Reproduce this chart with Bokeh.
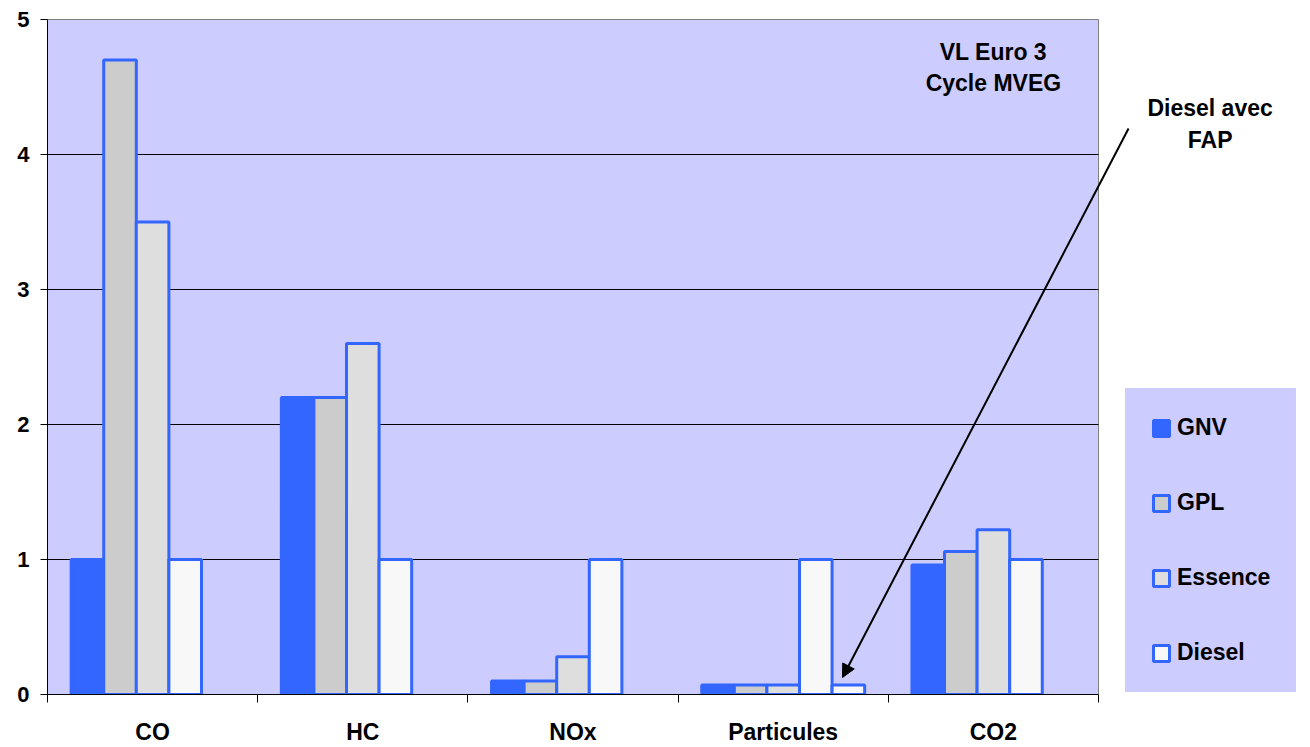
import math
from bokeh.plotting import figure
from bokeh.models import (Range1d, FixedTicker, Legend, LegendItem, Label,
                          Arrow, NormalHead)
from bokeh.embed import file_html
from bokeh.resources import INLINE

# ---- data ----
categories = ["CO", "HC", "NOx", "Particules", "CO2"]
gnv = [1.0, 2.2, 0.1, 0.07, 0.96]
gpl = [4.7, 2.2, 0.1, 0.07, 1.06]
essence = [3.5, 2.6, 0.28, 0.07, 1.22]
diesel = [1.0, 1.0, 1.0, 1.0, 1.0]
diesel_fap = [math.nan, math.nan, math.nan, 0.07, math.nan]
y_ticks = [0, 1, 2, 3, 4, 5]
series_names = ["GNV", "GPL", "Essence", "Diesel", "Diesel avec FAP"]

# ---- style / layout ----
FONT = "Liberation Sans"
BLUE = "#3366FF"
LAVENDER = "#CCCCFF"
fills = ["#3366FF", "#CCCCCC", "#DEDEDE", "#F8F8F8", "#F8F8F8"]
BAR_W = 0.155
W, H = 1310, 747
LEFT, TOP, BOTTOM = 47, 18, 53
PLOT_RIGHT_PX = 1098          # right edge of the lavender plot area
NCAT = len(categories)
YMAX = y_ticks[-1]
x_end = NCAT * (W - LEFT) / (PLOT_RIGHT_PX - LEFT)
frame_h = H - TOP - BOTTOM
y_end = YMAX * frame_h / (frame_h - 1)

p = figure(width=W, height=H, x_range=Range1d(0, x_end),
           y_range=Range1d(0, y_end), output_backend="svg", toolbar_location=None,
           min_border_left=LEFT, min_border_right=0, min_border_top=TOP,
           min_border_bottom=BOTTOM, background_fill_color="white",
           border_fill_color="white", outline_line_color=None)

centers = [i + 0.5 for i in range(NCAT)]
edges = [float(i) for i in range(NCAT + 1)]

# plot area background and frame
p.quad(left=[0], right=[NCAT], bottom=[0], top=[YMAX], fill_color=LAVENDER,
       line_color="#808080", line_width=1)
# horizontal grid lines limited to plot area
p.segment(x0=[0] * (len(y_ticks) - 2), x1=[NCAT] * (len(y_ticks) - 2),
          y0=y_ticks[1:-1], y1=y_ticks[1:-1], line_color="black", line_width=1)

# x axis: labels at centers, ticks at category edges
xa = p.xaxis[0]
xa.bounds = (0, NCAT)
xa.ticker = FixedTicker(ticks=centers, minor_ticks=edges)
xa.major_label_overrides = {c: name for c, name in zip(centers, categories)}
xa.major_tick_line_color = None
xa.major_tick_out = 0
xa.major_tick_in = 0
xa.minor_tick_out = 8
xa.minor_tick_in = 0
xa.minor_tick_line_color = "black"
xa.axis_line_color = "black"
xa.major_label_text_font = FONT
xa.major_label_text_font_style = "bold"
xa.major_label_text_font_size = "23px"
xa.major_label_text_color = "black"
xa.major_label_standoff = 16

ya = p.yaxis[0]
ya.bounds = (0, YMAX)
ya.ticker = FixedTicker(ticks=y_ticks, minor_ticks=[])
ya.major_tick_out = 7
ya.major_tick_in = 0
ya.major_tick_line_color = "black"
ya.axis_line_color = "black"
ya.major_label_text_font = FONT
ya.major_label_text_font_style = "bold"
ya.major_label_text_font_size = "22px"
ya.major_label_text_color = "black"
ya.major_label_standoff = 11

p.xgrid.grid_line_color = None
p.ygrid.grid_line_color = None

# ---- bars ----
all_series = [gnv, gpl, essence, diesel, diesel_fap]
renderers = []
n = len(all_series)
for k, (vals, fill) in enumerate(zip(all_series, fills)):
    off = (k - (n - 1) / 2) * BAR_W
    xs, tops = [], []
    for c, v in zip(centers, vals):
        if not math.isnan(v):
            xs.append(c + off)
            tops.append(v)
    r = p.vbar(x=xs, top=tops, bottom=0, width=BAR_W, fill_color=fill,
               line_color=BLUE, line_width=3)
    renderers.append(r)

# ---- legend ----
legend = Legend(items=[LegendItem(label=series_names[k], renderers=[renderers[k]])
                       for k in range(4)],
                location=(1078, 2), orientation="vertical",
                background_fill_color=LAVENDER, background_fill_alpha=1,
                border_line_color=LAVENDER, border_line_width=1,
                border_line_alpha=1,
                padding=25, spacing=48, margin=0,
                glyph_width=20, glyph_height=20, label_height=20,
                label_standoff=6, label_text_font=FONT,
                label_text_font_style="bold", label_text_font_size="23px",
                label_text_color="black")
p.add_layout(legend)

# ---- annotations ----
ann_style = dict(text_font=FONT, text_font_style="bold", text_font_size="23px",
                 text_color="black", text_align="center", text_baseline="middle")
p.add_layout(Label(x=4.5, y=4.756, text="VL Euro 3", **ann_style))
p.add_layout(Label(x=4.5, y=4.526, text="Cycle MVEG", **ann_style))
p.add_layout(Label(x=5.531, y=4.341, text="Diesel avec", **ann_style))
p.add_layout(Label(x=5.531, y=4.104, text="FAP", **ann_style))
p.add_layout(Arrow(end=NormalHead(size=13, fill_color="black", line_color="black"),
                   x_start=5.143, y_start=4.193, x_end=3.782, y_end=0.126,
                   line_color="black", line_width=2))

open("out.html", "w").write(file_html(p, INLINE))
